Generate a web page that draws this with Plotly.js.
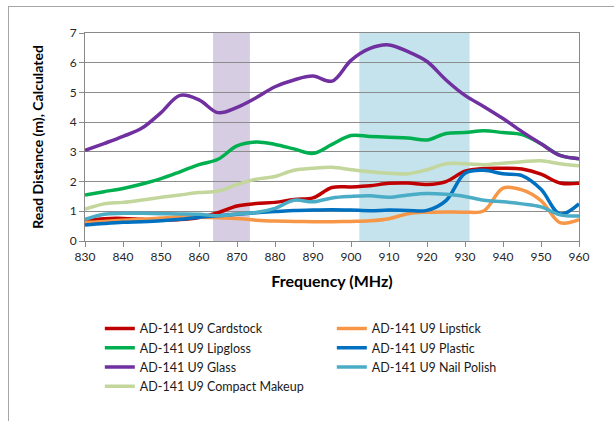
<!DOCTYPE html>
<html>
<head>
<meta charset="utf-8">
<script src="https://cdn.plot.ly/plotly-3.0.1.min.js"></script>
<style>
  html, body { margin: 0; padding: 0; background: #ffffff; }
  #wrap { position: relative; width: 614px; height: 421px; overflow: hidden; }
  #chart { position: absolute; left: 0; top: 0; width: 614px; height: 421px; }
  #frame { position: absolute; left: 8px; top: 6px; width: 800px; height: 600px;
           border-left: 1px solid #a6a6a6; border-top: 1px solid #a6a6a6; pointer-events: none; }
</style>
</head>
<body>
<div id="wrap">
  <div id="chart"></div>
  <div id="frame"></div>
</div>
<script>
// Frequency grid (MHz)
var freq = [830,835,840,845,850,855,860,865,870,875,880,885,890,895,900,905,910,915,920,925,930,935,940,945,950,955,960];

// Read distance (m) per sample
var cardstock = [0.67,0.75,0.76,0.73,0.71,0.72,0.79,0.95,1.18,1.26,1.30,1.40,1.45,1.80,1.82,1.86,1.94,1.95,1.90,2.00,2.35,2.44,2.45,2.42,2.25,1.95,1.94];
var lipstick  = [0.63,0.66,0.70,0.73,0.77,0.82,0.80,0.78,0.76,0.70,0.67,0.66,0.65,0.65,0.66,0.68,0.75,0.92,0.97,0.98,0.97,1.02,1.78,1.72,1.36,0.62,0.72];
var lipgloss  = [1.55,1.66,1.77,1.92,2.10,2.33,2.57,2.75,3.20,3.33,3.25,3.10,2.95,3.25,3.55,3.52,3.49,3.47,3.40,3.62,3.65,3.71,3.65,3.58,3.27,2.88,2.77];
var plastic   = [0.54,0.59,0.63,0.65,0.68,0.73,0.80,0.85,0.90,0.95,0.99,1.03,1.04,1.05,1.04,1.02,1.04,1.03,1.03,1.36,2.28,2.38,2.26,2.20,1.74,0.91,1.25];
var glass     = [3.05,3.28,3.52,3.80,4.32,4.90,4.75,4.32,4.50,4.82,5.19,5.42,5.55,5.38,6.08,6.48,6.60,6.37,6.04,5.42,4.90,4.52,4.12,3.68,3.27,2.88,2.77];
var nailPolish= [0.73,0.90,0.93,0.93,0.92,0.91,0.90,0.85,0.91,0.96,1.10,1.37,1.32,1.45,1.50,1.52,1.47,1.55,1.60,1.57,1.50,1.37,1.32,1.25,1.15,0.88,0.84];
var compact   = [1.07,1.25,1.30,1.38,1.47,1.55,1.63,1.68,1.90,2.08,2.17,2.38,2.45,2.48,2.40,2.33,2.28,2.26,2.40,2.60,2.60,2.57,2.62,2.67,2.70,2.60,2.53];

var seriesNames  = ["AD-141 U9 Cardstock","AD-141 U9 Lipstick","AD-141 U9 Lipgloss","AD-141 U9 Plastic","AD-141 U9 Glass","AD-141 U9 Nail Polish","AD-141 U9 Compact Makeup"];
var seriesValues = [cardstock, lipstick, lipgloss, plastic, glass, nailPolish, compact];
var seriesColors = ["#C00000","#F79646","#00B050","#0070C0","#7030A0","#4BACC6","#C3D69B"];

// Highlighted bands (MHz)
var bandEU = [863.7, 873.4];
var bandUS = [902.2, 931.2];

var xTicks = [830,840,850,860,870,880,890,900,910,920,930,940,950,960];
var yTicks = [0,1,2,3,4,5,6,7];

var traces = seriesNames.map(function(n, i) {
  return {
    x: freq, y: seriesValues[i], name: n, type: 'scatter', mode: 'lines',
    line: { color: seriesColors[i], width: 3.5, shape: 'spline', smoothing: 1 },
    hoverinfo: 'skip'
  };
});

var layout = {
  width: 614, height: 421,
  margin: { l: 85, r: 35, t: 33, b: 180, pad: 0 },
  paper_bgcolor: 'rgba(0,0,0,0)', plot_bgcolor: '#ffffff',
  font: { family: 'Lato, "Open Sans", sans-serif', size: 12, color: '#1a1a1a' },
  showlegend: true,
  legend: {
    orientation: 'h', x: 0.03, xanchor: 'left', y: -0.35, yanchor: 'top',
    entrywidth: 187, entrywidthmode: 'pixels',
    font: { family: 'Lato, sans-serif', size: 12.5, color: '#1a1a1a' },
    bgcolor: 'rgba(0,0,0,0)', traceorder: 'normal'
  },
  xaxis: {
    range: [830, 960], tickmode: 'array', tickvals: xTicks,
    showgrid: false, zeroline: false,
    showline: true, linecolor: '#898989', linewidth: 1, mirror: true,
    ticks: 'outside', ticklen: 5, tickcolor: '#898989',
    tickfont: { size: 12, color: '#262626' },
    title: { text: 'Frequency (MHz)', font: { size: 16, color: '#000000', family: 'Lato, sans-serif', weight: 'bold' }, standoff: 12 }
  },
  yaxis: {
    range: [0, 7], tickmode: 'array', tickvals: yTicks,
    showgrid: true, gridcolor: '#8c8c8c', gridwidth: 1, zeroline: false,
    showline: true, linecolor: '#898989', linewidth: 1, mirror: true,
    ticks: 'outside', ticklen: 5, tickcolor: '#898989',
    tickfont: { size: 12, color: '#262626' },
    title: { text: 'Read Distance (m), Calculated', font: { size: 14, color: '#000000', family: 'Lato, sans-serif', weight: 'bold' }, standoff: 22 }
  },
  shapes: [
    { type: 'rect', xref: 'x', yref: 'paper', x0: bandEU[0], x1: bandEU[1], y0: 0, y1: 1,
      fillcolor: '#D6CDE2', line: { width: 0 }, layer: 'below' },
    { type: 'rect', xref: 'x', yref: 'paper', x0: bandUS[0], x1: bandUS[1], y0: 0, y1: 1,
      fillcolor: '#C4E3EC', line: { width: 0 }, layer: 'below' }
  ]
};

Plotly.newPlot('chart', traces, layout, { staticPlot: true, displayModeBar: false });
</script>
</body>
</html>
